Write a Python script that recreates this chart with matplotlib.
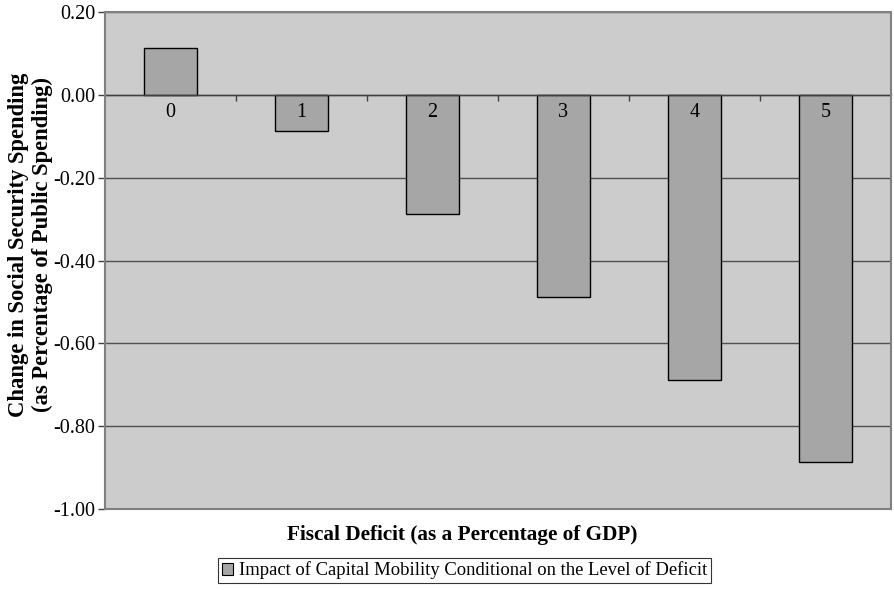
import matplotlib
matplotlib.use("Agg")
import matplotlib.pyplot as plt
from matplotlib.patches import Rectangle, Patch
from matplotlib.ticker import FixedLocator, FuncFormatter

# Fiscal deficit levels and the conditional impact of capital mobility
categories = ["0", "1", "2", "3", "4", "5"]
impact = [0.113, -0.087, -0.287, -0.487, -0.689, -0.887]
y_ticks = [-1.0, -0.8, -0.6, -0.4, -0.2, 0.0, 0.2]
series_name = "Impact of Capital Mobility Conditional on the Level of Deficit"
x_title = "Fiscal Deficit (as a Percentage of GDP)"
y_title = "Change in Social Security Spending\n(as Percentage of Public Spending)"

plt.rcParams["font.family"] = ["Liberation Serif", "DejaVu Serif"]

W, H = 895, 590
fig = plt.figure(figsize=(W / 100, H / 100), dpi=100)
fig.patch.set_facecolor("white")

left, right, top, bottom = 105, 891, 12, 509
ax = fig.add_axes([left / W, 1 - bottom / H, (right - left) / W, (bottom - top) / H])
ax.set_facecolor("#CCCCCC")

x = list(range(len(categories)))
ax.bar(x, impact, width=0.4, color="#A6A6A6", edgecolor="black", linewidth=1.0, zorder=3)

ax.set_xlim(-0.5, len(categories) - 0.5)
ax.set_ylim(y_ticks[0], y_ticks[-1])

# horizontal gridlines
ax.yaxis.set_major_locator(FixedLocator(y_ticks))
ax.yaxis.set_major_formatter(FuncFormatter(lambda v, p: f"{v:.2f}"))
ax.grid(axis="y", color="#505050", linewidth=1.0, zorder=1)
ax.tick_params(axis="y", direction="out", length=5, width=1, color="#404040",
               labelsize=14.5, pad=2)

# category axis sits on the zero line
ax.spines["bottom"].set_position(("data", 0))
ax.spines["bottom"].set_color("#404040")
ax.spines["bottom"].set_linewidth(1.0)
ax.spines["bottom"].set_zorder(4)
ax.set_xticks([i + 0.5 for i in x[:-1]])
ax.tick_params(axis="x", direction="out", length=4, width=1, color="#404040",
               labelbottom=False)
for i, lab in zip(x, categories):
    ax.annotate(lab, xy=(i, 0), xytext=(0, -13), textcoords="offset points",
                ha="center", va="center", fontsize=14.5, zorder=5)

ax.spines["left"].set_color("#404040")
ax.spines["left"].set_linewidth(1.2)
for s in ("top", "right"):
    ax.spines[s].set_visible(False)

# outer frame of the plotting area
ax.add_patch(Rectangle((0, 0), 1, 1, transform=ax.transAxes, fill=False,
                       edgecolor="#808080", linewidth=1.5, zorder=6, clip_on=False))

fig.text(462 / W, 1 - 535 / H, x_title, ha="center", va="center",
         fontsize=15.3, fontweight="bold")
fig.text(30.5 / W, 1 - 245 / H, y_title, ha="center", va="center", rotation=90,
         fontsize=16.3, fontweight="bold", linespacing=1.2)

handle = Patch(facecolor="#A6A6A6", edgecolor="black", linewidth=0.8)
leg = fig.legend([handle], [series_name], loc="center",
                 bbox_to_anchor=(464.5 / W, 1 - 570.5 / H), frameon=True,
                 fancybox=False, edgecolor="black", fontsize=13.4,
                 handlelength=0.6, handleheight=0.6, handletextpad=0.3,
                 borderpad=0.2, borderaxespad=0)
leg.get_frame().set_linewidth(0.8)

fig.savefig("out.png", dpi=100)
